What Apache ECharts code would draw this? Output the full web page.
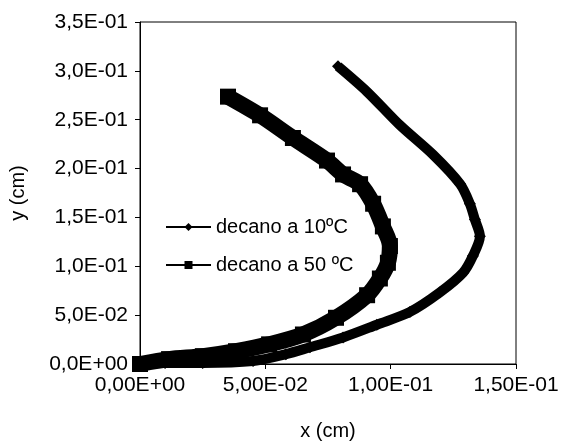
<!DOCTYPE html>
<html>
<head>
<meta charset="utf-8">
<script src="https://cdn.jsdelivr.net/npm/echarts@6/dist/echarts.min.js"></script>
<style>
  html, body { margin: 0; padding: 0; background: #fff; }
  #chart { width: 562px; height: 446px; }
</style>
</head>
<body>
<div id="chart"></div>
<script>
// decano a 10ºC (diamonds), [x, y] in cm
const decano10 = [
  [0.0000, 0.0000], [0.0100, 0.0010], [0.0250, 0.0010], [0.0451, 0.0030],
  [0.0582, 0.0100], [0.0678, 0.0171], [0.0810, 0.0272], [0.0945, 0.0402],
  [0.1077, 0.0533], [0.1197, 0.0734], [0.1289, 0.0935], [0.1328, 0.1106],
  [0.1356, 0.1307], [0.1336, 0.1478], [0.1316, 0.1639], [0.1277, 0.1841],
  [0.1169, 0.2142], [0.1037, 0.2444], [0.0906, 0.2786], [0.0790, 0.3047]
];

// decano a 50 ºC (squares)
const decano50 = [
  [0.0000, 0.0000], [0.0116, 0.0050], [0.0251, 0.0080], [0.0383, 0.0131],
  [0.0515, 0.0201], [0.0650, 0.0302], [0.0782, 0.0473], [0.0906, 0.0704],
  [0.0957, 0.0875], [0.0989, 0.1036], [0.0997, 0.1207], [0.0969, 0.1408],
  [0.0930, 0.1640], [0.0878, 0.1840], [0.0810, 0.1940], [0.0746, 0.2082],
  [0.0610, 0.2313], [0.0479, 0.2545], [0.0351, 0.2736]
];

const seriesNames = ['decano a 10ºC', 'decano a 50 ºC'];
const xTickLabels = ['0,00E+00', '5,00E-02', '1,00E-01', '1,50E-01'];
const yTickLabels = ['0,0E+00', '5,0E-02', '1,0E-01', '1,5E-01', '2,0E-01', '2,5E-01', '3,0E-01', '3,5E-01'];

const font = '"Liberation Sans", Arial, sans-serif';
const chart = echarts.init(document.getElementById('chart'));

chart.setOption({
  animation: false,
  backgroundColor: '#fff',
  grid: {
    left: 140, right: 46, top: 22, bottom: 76,
    show: true, borderColor: '#000', borderWidth: 1
  },
  legend: {
    data: seriesNames,
    orient: 'vertical',
    left: 160,
    top: 212,
    itemWidth: 45,
    itemHeight: 10,
    itemGap: 18,
    itemStyle: { color: '#000' },
    lineStyle: { width: 2, color: '#000' },
    textStyle: { fontFamily: font, fontSize: 20, color: '#000' }
  },
  xAxis: {
    type: 'value',
    min: 0, max: 0.15, interval: 0.05,
    name: 'x (cm)',
    nameLocation: 'middle',
    nameGap: 57,
    nameTextStyle: { fontFamily: font, fontSize: 20, color: '#000' },
    axisLine: { lineStyle: { color: '#000', width: 1 } },
    axisTick: { show: true, length: 5, lineStyle: { color: '#000' } },
    splitLine: { show: false },
    axisLabel: {
      margin: 11,
      fontFamily: font, fontSize: 21, color: '#000',
      formatter: v => xTickLabels[Math.round(v / 0.05)]
    }
  },
  yAxis: {
    type: 'value',
    min: 0, max: 0.35, interval: 0.05,
    name: 'y (cm)',
    nameLocation: 'middle',
    nameGap: 112,
    nameTextStyle: { fontFamily: font, fontSize: 20, color: '#000' },
    axisLine: { show: true, lineStyle: { color: '#000', width: 1 } },
    axisTick: { show: true, length: 5, lineStyle: { color: '#000' } },
    splitLine: { show: false },
    axisLabel: {
      margin: 12,
      fontFamily: font, fontSize: 21, color: '#000',
      formatter: v => yTickLabels[Math.round(v / 0.05)]
    }
  },
  series: [
    {
      name: seriesNames[0],
      type: 'line',
      data: decano10,
      smooth: 0.3,
      symbol: 'diamond',
      symbolSize: 12,
      lineStyle: { color: '#000', width: 10 },
      itemStyle: { color: '#000' }
    },
    {
      name: seriesNames[1],
      type: 'line',
      data: decano50,
      smooth: 0.3,
      symbol: 'rect',
      symbolSize: 16,
      lineStyle: { color: '#000', width: 16 },
      itemStyle: { color: '#000' }
    }
  ]
});
</script>
</body>
</html>
